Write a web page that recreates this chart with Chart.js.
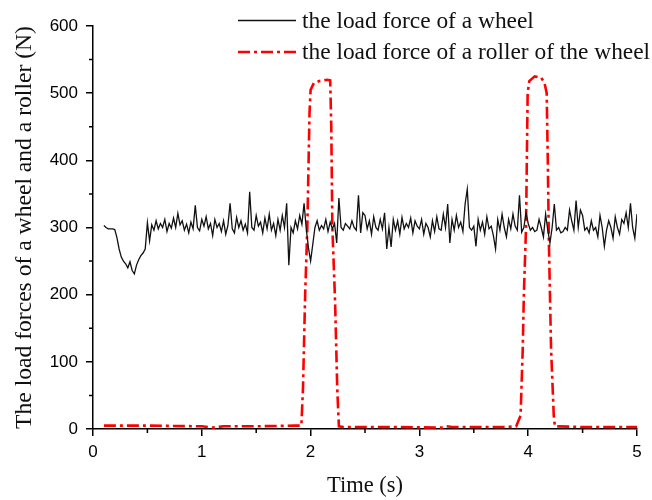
<!DOCTYPE html>
<html>
<head>
<meta charset="utf-8">
<script src="https://cdn.jsdelivr.net/npm/chart.js@4"></script>
<style>
html,body{margin:0;padding:0;background:#fff;}
canvas{display:block;}
</style>
</head>
<body>
<canvas id="c" width="652" height="500"></canvas>
<script>
// ---- data ----
const wheelStart = 0.1;   // s, first sample time
const wheelStep = 0.02;   // s, sample interval
const wheelForce = [
  303, 300, 298, 298, 298, 297, 285, 268, 256, 250,
  246, 240, 249, 236, 231, 244, 252, 258, 262, 268,
  307, 280, 304, 296, 310, 298, 306, 300, 312, 294,
  306, 299, 314, 300, 321, 304, 310, 296, 305, 292,
  308, 298, 333, 300, 295, 312, 302, 316, 298, 306,
  288, 312, 300, 306, 294, 310, 290, 303, 336, 298,
  292, 315, 300, 310, 296, 305, 292, 353, 300, 296,
  318, 302, 308, 292, 314, 298, 320, 296, 306, 288,
  312, 296, 318, 300, 336, 244, 300, 292, 310, 298,
  318, 305, 336, 298, 270, 250, 275, 300, 310, 296,
  303, 298, 312, 294, 308, 298, 306, 277, 344, 300,
  296, 306, 302, 298, 310, 300, 296, 348, 292, 322,
  318, 298, 310, 290, 316, 300, 296, 312, 298, 322,
  268, 300, 271, 312, 296, 310, 290, 315, 298, 306,
  300, 314, 292, 310, 302, 298, 312, 290, 306, 300,
  286, 310, 294, 316, 298, 296, 320, 300, 335, 277,
  312, 296, 318, 300, 308, 294, 335, 357, 300, 296,
  302, 272, 312, 296, 308, 290, 316, 298, 302, 288,
  268, 312, 296, 320, 300, 286, 312, 298, 320, 302,
  296, 348, 293, 300, 322, 306, 296, 300, 294, 296,
  312, 300, 286, 320, 296, 277, 300, 335, 296, 300,
  292, 294, 300, 296, 326, 310, 296, 340, 300, 326,
  318, 296, 300, 292, 310, 296, 300, 286, 318, 300,
  272, 296, 310, 300, 284, 316, 300, 290, 312, 306,
  322, 300, 336, 300, 284, 320
];
const rollerTime = [
  0.1, 0.5, 1.0, 1.1, 1.2, 1.5, 1.85, 1.915, 1.93, 1.95, 1.97, 1.99, 2.0, 2.03, 2.08, 2.15, 2.18,
  2.19, 2.2, 2.225, 2.245, 2.26, 2.3, 2.8, 3.2, 3.25, 3.3, 3.8, 3.89, 3.93, 3.95, 3.96, 3.98,
  3.995, 4.01, 4.06, 4.12, 4.15, 4.17, 4.18, 4.19, 4.21, 4.235, 4.245, 4.5, 5.0
];
const rollerForce = [
  5, 5, 4, 2, 4, 4, 5, 5, 60, 200, 300, 470, 505, 515, 518, 520, 519,
  450, 300, 190, 60, 4, 3, 3, 2, 4, 3, 3, 4, 20, 120, 200, 300,
  500, 518, 525, 523, 515, 500, 400, 280, 120, 20, 4, 3, 3
];
const seriesLabels = ['the load force of a wheel', 'the load force of a roller of the wheel'];
const xTitle = 'Time (s)';
const yTitle = 'The load forces of a wheel and a roller (N)';
const xMajorTicks = [0, 1, 2, 3, 4, 5];
const yMajorTicks = [0, 100, 200, 300, 400, 500, 600];
const xMinorTicks = [0.5, 1.5, 2.5, 3.5, 4.5];
const yMinorTicks = [50, 150, 250, 350, 450, 550];

// ---- build ----
const wheelPts = wheelForce.map((v, i) => ({x: +(wheelStart + i * wheelStep).toFixed(3), y: v}));
const rollerPts = rollerTime.map((t, i) => ({x: t, y: rollerForce[i]}));

const SANS = '"Liberation Sans", Arial, sans-serif';
const SERIF = '"Liberation Serif", "Times New Roman", serif';

const minorTicksPlugin = {
  id: 'minorTicks',
  afterDraw(chart) {
    const ctx = chart.ctx;
    const xs = chart.scales.x, ys = chart.scales.y;
    ctx.save();
    ctx.strokeStyle = '#000';
    ctx.lineWidth = 1.5;
    ctx.beginPath();
    xMinorTicks.forEach(v => {
      const px = xs.getPixelForValue(v);
      ctx.moveTo(px, ys.bottom);
      ctx.lineTo(px, ys.bottom + 4);
    });
    yMinorTicks.forEach(v => {
      const py = ys.getPixelForValue(v);
      ctx.moveTo(xs.left, py);
      ctx.lineTo(xs.left - 4, py);
    });
    ctx.stroke();
    ctx.restore();
  }
};

const legendPlugin = {
  id: 'customLegend',
  afterDraw(chart) {
    const ctx = chart.ctx;
    const rows = [20.5, 52];
    ctx.save();
    chart.data.datasets.forEach((ds, i) => {
      const y = rows[i];
      ctx.beginPath();
      ctx.strokeStyle = ds.borderColor;
      ctx.lineWidth = ds.borderWidth;
      ctx.setLineDash(ds.borderDash || []);
      ctx.moveTo(238, y);
      ctx.lineTo(296, y);
      ctx.stroke();
      ctx.setLineDash([]);
      ctx.fillStyle = '#111';
      ctx.font = '23.4px ' + SERIF;
      ctx.textBaseline = 'middle';
      ctx.textAlign = 'left';
      ctx.fillText(ds.label, 302, y + 1);
    });
    ctx.restore();
  }
};

new Chart(document.getElementById('c'), {
  type: 'line',
  data: {
    datasets: [
      {
        label: seriesLabels[0],
        data: wheelPts,
        borderColor: '#111',
        borderWidth: 1.3,
        pointRadius: 0,
        tension: 0,
        fill: false
      },
      {
        label: seriesLabels[1],
        data: rollerPts,
        borderColor: '#ff0000',
        borderWidth: 2.6,
        borderDash: [12, 4, 3, 4],
        pointRadius: 0,
        tension: 0,
        fill: false
      }
    ]
  },
  options: {
    responsive: false,
    animation: false,
    devicePixelRatio: 1,
    layout: {padding: {top: 26, right: 15, left: 0, bottom: 0}},
    plugins: {legend: {display: false}, tooltip: {enabled: false}},
    scales: {
      x: {
        type: 'linear',
        min: 0, max: 5,
        afterBuildTicks(s) { s.ticks = xMajorTicks.map(v => ({value: v})); },
        afterFit(s) { s.height = 71; },
        grid: {drawOnChartArea: false, drawTicks: true, tickLength: 7, color: '#000', lineWidth: 1.5},
        border: {display: true, color: '#000', width: 1.5},
        ticks: {color: '#000', font: {family: SANS, size: 17}, padding: 6, maxRotation: 0},
        title: {display: true, text: xTitle, color: '#111', font: {family: SERIF, size: 22.5}, padding: {top: 0, bottom: 0}}
      },
      y: {
        min: 0, max: 600,
        afterBuildTicks(s) { s.ticks = yMajorTicks.map(v => ({value: v})); },
        afterFit(s) { s.width = 93; },
        grid: {drawOnChartArea: false, drawTicks: true, tickLength: 7, color: '#000', lineWidth: 1.5},
        border: {display: true, color: '#000', width: 1.5},
        ticks: {color: '#000', font: {family: SANS, size: 17}, padding: 8},
        title: {display: true, text: yTitle, color: '#111', font: {family: SERIF, size: 23.6}, padding: {top: 11, bottom: 0}}
      }
    }
  },
  plugins: [minorTicksPlugin, legendPlugin]
});
</script>
</body>
</html>
